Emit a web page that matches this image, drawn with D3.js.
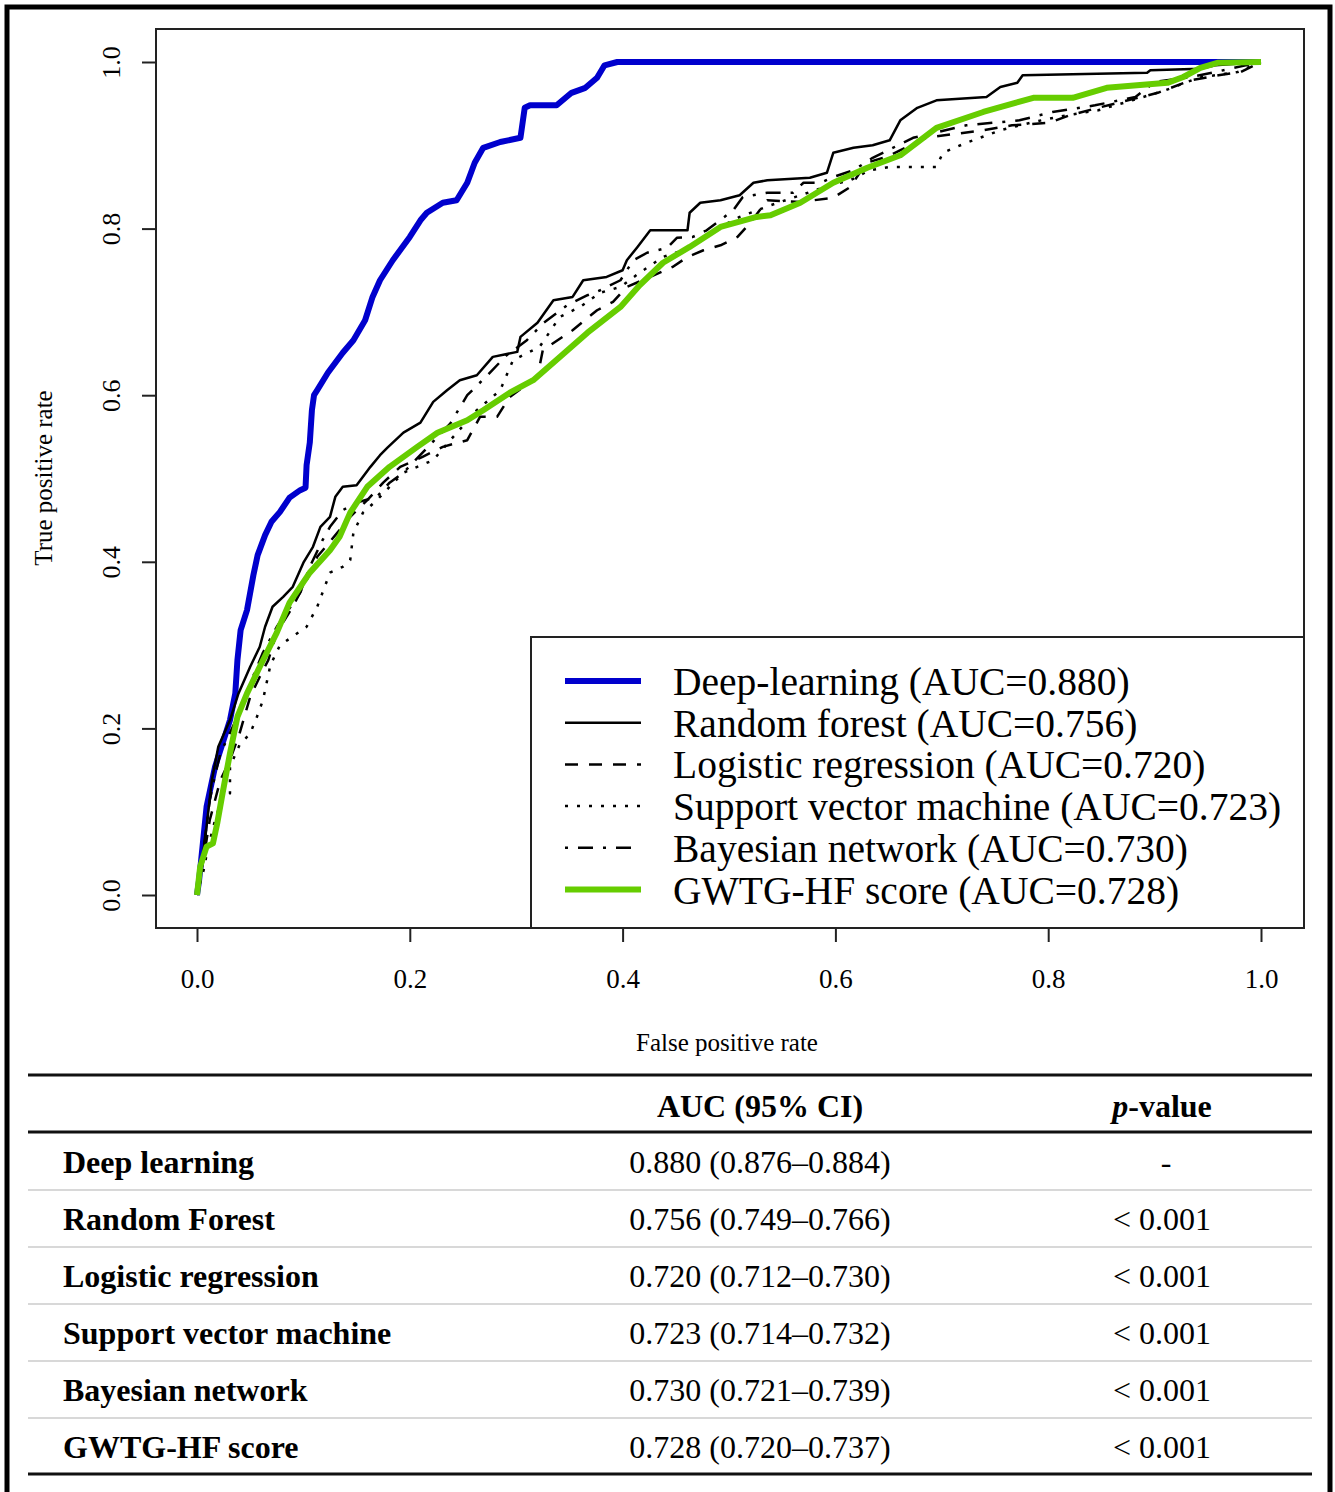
<!DOCTYPE html>
<meta charset="utf-8">
<style>
body { margin: 0; background: #fff; }
text { font-family: "Liberation Serif", "Times New Roman", serif; fill: #000; }
.axis path.domain { display: none; }
.axis line { stroke: #222; stroke-width: 2px; }
.roc { fill: none; stroke-linejoin: round; }
</style>
<svg width="1335" height="1492"></svg>
<script src="https://d3js.org/d3.v7.min.js"></script>
<script>

// ROC curves, [false positive rate, true positive rate]
var deepLearning = [[0,0],[0.002,0.018],[0.009,0.106],[0.017,0.154],[0.031,0.21],[0.036,0.242],[0.038,0.282],
  [0.041,0.318],[0.047,0.342],[0.053,0.384],[0.057,0.408],[0.064,0.432],[0.07,0.448],[0.078,0.46],[0.087,0.477],
  [0.097,0.486],[0.102,0.489],[0.103,0.516],[0.106,0.543],[0.108,0.582],[0.11,0.6],[0.113,0.606],[0.123,0.627],
  [0.137,0.651],[0.147,0.666],[0.158,0.69],[0.165,0.718],[0.172,0.738],[0.184,0.762],[0.2,0.79],[0.21,0.81],
  [0.216,0.819],[0.231,0.831],[0.244,0.834],[0.254,0.855],[0.261,0.879],[0.269,0.897],[0.285,0.904],[0.304,0.909],
  [0.308,0.945],[0.313,0.948],[0.338,0.948],[0.352,0.963],[0.365,0.969],[0.376,0.981],[0.383,0.996],[0.395,1],[1,1]];

var randomForest = [[0,0],[0.0075,0.066],[0.014,0.138],[0.02,0.178],[0.031,0.21],[0.039,0.242],[0.05,0.274],
  [0.059,0.298],[0.064,0.322],[0.071,0.346],[0.081,0.358],[0.09,0.37],[0.1,0.399],[0.109,0.418],[0.116,0.442],
  [0.125,0.454],[0.13,0.478],[0.137,0.49],[0.15,0.492],[0.163,0.514],[0.172,0.528],[0.179,0.537],[0.194,0.555],
  [0.21,0.567],[0.222,0.592],[0.235,0.606],[0.247,0.618],[0.263,0.624],[0.278,0.646],[0.301,0.652],[0.304,0.67],
  [0.32,0.687],[0.335,0.714],[0.353,0.718],[0.363,0.738],[0.385,0.742],[0.4,0.75],[0.404,0.762],[0.414,0.778],
  [0.426,0.798],[0.461,0.798],[0.463,0.819],[0.473,0.831],[0.492,0.834],[0.51,0.84],[0.523,0.855],[0.536,0.858],
  [0.576,0.861],[0.592,0.867],[0.598,0.891],[0.617,0.897],[0.635,0.9],[0.651,0.906],[0.661,0.93],[0.677,0.945],
  [0.695,0.954],[0.742,0.958],[0.755,0.97],[0.771,0.975],[0.776,0.984],[0.893,0.987],[0.896,0.99],[0.943,0.992],
  [0.957,0.996],[1,1]];

var logisticRegression = [[0,0],[0.006,0.042],[0.012,0.09],[0.022,0.138],[0.031,0.162],[0.04,0.194],[0.05,0.238],
  [0.059,0.262],[0.067,0.282],[0.075,0.315],[0.09,0.346],[0.103,0.378],[0.113,0.406],[0.132,0.435],[0.144,0.454],
  [0.16,0.474],[0.175,0.495],[0.191,0.514],[0.212,0.526],[0.231,0.538],[0.254,0.546],[0.266,0.574],[0.282,0.574],
  [0.294,0.598],[0.32,0.622],[0.325,0.654],[0.353,0.678],[0.376,0.702],[0.391,0.712],[0.404,0.73],[0.426,0.742],
  [0.447,0.754],[0.461,0.766],[0.476,0.774],[0.492,0.78],[0.508,0.79],[0.52,0.807],[0.536,0.834],[0.567,0.832],
  [0.598,0.837],[0.614,0.85],[0.629,0.879],[0.648,0.886],[0.685,0.909],[0.738,0.918],[0.766,0.924],[0.801,0.927],
  [0.82,0.936],[0.847,0.945],[0.903,0.963],[0.934,0.978],[0.96,0.984],[0.981,0.988],[1,1]];

var supportVector = [[0,0],[0.0075,0.036],[0.009,0.05],[0.017,0.09],[0.023,0.114],[0.031,0.122],[0.031,0.154],
  [0.04,0.18],[0.05,0.194],[0.057,0.216],[0.062,0.234],[0.069,0.276],[0.078,0.3],[0.085,0.306],[0.103,0.322],
  [0.113,0.346],[0.125,0.387],[0.137,0.394],[0.144,0.402],[0.147,0.435],[0.156,0.459],[0.169,0.474],[0.181,0.49],
  [0.194,0.507],[0.207,0.514],[0.222,0.522],[0.238,0.546],[0.263,0.582],[0.285,0.606],[0.297,0.642],[0.322,0.658],
  [0.341,0.694],[0.36,0.706],[0.379,0.723],[0.398,0.73],[0.416,0.747],[0.438,0.766],[0.457,0.774],[0.473,0.786],
  [0.492,0.802],[0.51,0.814],[0.539,0.828],[0.567,0.84],[0.595,0.852],[0.614,0.858],[0.632,0.87],[0.651,0.874],
  [0.695,0.874],[0.701,0.891],[0.723,0.903],[0.755,0.918],[0.786,0.928],[0.817,0.936],[0.847,0.942],[0.879,0.954],
  [0.91,0.966],[0.941,0.981],[0.978,0.988],[1,1]];

var bayesianNetwork = [[0,0],[0.006,0.054],[0.012,0.114],[0.017,0.144],[0.022,0.17],[0.038,0.214],[0.05,0.254],
  [0.062,0.291],[0.075,0.322],[0.097,0.363],[0.106,0.394],[0.118,0.426],[0.125,0.442],[0.137,0.462],[0.15,0.471],
  [0.169,0.478],[0.181,0.495],[0.194,0.507],[0.212,0.531],[0.238,0.566],[0.254,0.6],[0.273,0.624],[0.291,0.648],
  [0.31,0.666],[0.325,0.686],[0.348,0.708],[0.367,0.72],[0.379,0.726],[0.398,0.738],[0.41,0.762],[0.423,0.771],
  [0.442,0.777],[0.451,0.789],[0.466,0.79],[0.479,0.798],[0.504,0.822],[0.513,0.838],[0.536,0.843],[0.56,0.843],
  [0.57,0.855],[0.586,0.855],[0.598,0.862],[0.617,0.87],[0.635,0.885],[0.673,0.909],[0.723,0.924],[0.773,0.93],
  [0.804,0.94],[0.844,0.948],[0.882,0.958],[0.9,0.976],[0.934,0.982],[0.957,0.988],[1,1]];

var gwtgScore = [[0,0],[0.003,0.034],[0.009,0.058],[0.015,0.062],[0.019,0.086],[0.024,0.122],[0.031,0.17],
  [0.038,0.214],[0.047,0.242],[0.059,0.274],[0.075,0.315],[0.087,0.351],[0.106,0.387],[0.125,0.414],[0.134,0.43],
  [0.144,0.459],[0.16,0.49],[0.181,0.514],[0.207,0.538],[0.226,0.555],[0.254,0.57],[0.269,0.582],[0.294,0.603],
  [0.316,0.618],[0.341,0.646],[0.367,0.675],[0.398,0.706],[0.416,0.732],[0.438,0.759],[0.463,0.778],[0.492,0.802],
  [0.526,0.814],[0.539,0.816],[0.567,0.831],[0.598,0.855],[0.63,0.873],[0.661,0.888],[0.695,0.921],[0.739,0.94],
  [0.786,0.957],[0.823,0.957],[0.855,0.969],[0.912,0.975],[0.927,0.982],[0.943,0.993],[0.959,0.999],[1,1]];

var legendNames = ["Deep-learning", "Random forest", "Logistic regression",
                   "Support vector machine", "Bayesian network", "GWTG-HF score"];
var legendAUC = ["0.880", "0.756", "0.720", "0.723", "0.730", "0.728"];

var xTicks = [0, 0.2, 0.4, 0.6, 0.8, 1.0],
    yTicks = [0, 0.2, 0.4, 0.6, 0.8, 1.0];

// table under the plot
var tableModels = ["Deep learning", "Random Forest", "Logistic regression",
                   "Support vector machine", "Bayesian network", "GWTG-HF score"];
var tableAUC = ["0.880 (0.876\u20130.884)", "0.756 (0.749\u20130.766)", "0.720 (0.712\u20130.730)",
                "0.723 (0.714\u20130.732)", "0.730 (0.721\u20130.739)", "0.728 (0.720\u20130.737)"];
var tablePValue = ["-", "< 0.001", "< 0.001", "< 0.001", "< 0.001", "< 0.001"];

var series = [deepLearning, randomForest, logisticRegression, supportVector, bayesianNetwork, gwtgScore];
// line look for each series, same order as legendNames
var styles = [
  {color: "#0000CD", width: 6,   dash: null},
  {color: "#000",    width: 2.5, dash: null},
  {color: "#000",    width: 2.5, dash: "13,11"},
  {color: "#000",    width: 2.5, dash: "3,9"},
  {color: "#000",    width: 2.5, dash: "3,10,15,10"},
  {color: "#66CD00", width: 6,   dash: null}
];

var svg = d3.select("svg");

svg.append("rect").attr("width", 1335).attr("height", 1492).attr("fill", "#fff");

// outer frame (open at the bottom)
svg.append("path")
    .attr("d", "M7,1492V7H1330V1492")
    .attr("fill", "none")
    .attr("stroke", "#000")
    .attr("stroke-width", 5);

var box = {left: 156, top: 29, right: 1304, bottom: 928};

var x = d3.scaleLinear().domain([0, 1]).range([197, 1261]),
    y = d3.scaleLinear().domain([0, 1]).range([895, 62]);

// x axis
var xAxis = svg.append("g")
    .attr("class", "axis")
    .attr("transform", "translate(0," + box.bottom + ")")
    .call(d3.axisBottom(x).tickValues(xTicks).tickFormat(d3.format(".1f")).tickSize(14));
xAxis.selectAll("text")
    .attr("y", 60).attr("dy", null)
    .style("font-size", "27px");

// y axis, labels turned parallel to the axis like R does
var yAxis = svg.append("g")
    .attr("class", "axis")
    .attr("transform", "translate(" + box.left + ",0)")
    .call(d3.axisLeft(y).tickValues(yTicks).tickFormat(d3.format(".1f")).tickSize(14));
yAxis.selectAll("text")
    .attr("x", null).attr("dy", null)
    .attr("text-anchor", "middle")
    .attr("transform", "translate(-36,0) rotate(-90)")
    .style("font-size", "26px");

svg.append("text")
    .attr("x", 727).attr("y", 1051)
    .attr("text-anchor", "middle")
    .style("font-size", "25px")
    .text("False positive rate");

svg.append("text")
    .attr("transform", "translate(52,478) rotate(-90)")
    .attr("text-anchor", "middle")
    .style("font-size", "25px")
    .text("True positive rate");

// curves
var line = d3.line()
    .x(function(d) { return x(d[0]); })
    .y(function(d) { return y(d[1]); });

svg.selectAll(".roc")
    .data(series)
  .enter().append("path")
    .attr("class", "roc")
    .attr("d", line)
    .attr("stroke", function(d, i) { return styles[i].color; })
    .attr("stroke-width", function(d, i) { return styles[i].width; })
    .attr("stroke-dasharray", function(d, i) { return styles[i].dash; });

// plot box
svg.append("rect")
    .attr("x", box.left).attr("y", box.top)
    .attr("width", box.right - box.left).attr("height", box.bottom - box.top)
    .attr("fill", "none").attr("stroke", "#222").attr("stroke-width", 2);

// legend
var legend = svg.append("g");
legend.append("rect")
    .attr("x", 531).attr("y", 637)
    .attr("width", box.right - 531).attr("height", box.bottom - 637)
    .attr("fill", "#fff").attr("stroke", "#222").attr("stroke-width", 2);

var item = legend.selectAll(".item")
    .data(legendNames)
  .enter().append("g")
    .attr("class", "item")
    .attr("transform", function(d, i) { return "translate(0," + (681 + i * 41.7) + ")"; });

item.append("line")
    .attr("x1", 565).attr("x2", 641)
    .attr("stroke", function(d, i) { return styles[i].color; })
    .attr("stroke-width", function(d, i) { return styles[i].width; })
    .attr("stroke-dasharray", function(d, i) { return styles[i].dash; });

item.append("text")
    .attr("x", 673).attr("y", 14)
    .style("font-size", "39.5px")
    .text(function(d, i) { return d + " (AUC=" + legendAUC[i] + ")"; });

// table
var table = svg.append("g");
var rowY = d3.range(tableModels.length).map(function(i) { return 1162 + i * 57; });

table.selectAll(".rule")
    .data([1075, 1132, 1474])
  .enter().append("line")
    .attr("x1", 28).attr("x2", 1312)
    .attr("y1", function(d) { return d; }).attr("y2", function(d) { return d; })
    .attr("stroke", "#111").attr("stroke-width", 3);

table.selectAll(".sep")
    .data(rowY.slice(0, -1))
  .enter().append("line")
    .attr("x1", 28).attr("x2", 1312)
    .attr("y1", function(d) { return d + 28; }).attr("y2", function(d) { return d + 28; })
    .attr("stroke", "#d8d8d8").attr("stroke-width", 2);

table.append("text")
    .attr("x", 760).attr("y", 1117)
    .attr("text-anchor", "middle")
    .style("font-size", "32px").style("font-weight", "bold")
    .text("AUC (95% CI)");

var pHead = table.append("text")
    .attr("x", 1162).attr("y", 1117)
    .attr("text-anchor", "middle")
    .style("font-size", "32px").style("font-weight", "bold");
pHead.append("tspan").style("font-style", "italic").text("p");
pHead.append("tspan").text("-value");

table.selectAll(".model")
    .data(tableModels)
  .enter().append("text")
    .attr("x", 63).attr("y", function(d, i) { return rowY[i] + 11; })
    .style("font-size", "32px").style("font-weight", "bold")
    .text(function(d) { return d; });

table.selectAll(".auc")
    .data(tableAUC)
  .enter().append("text")
    .attr("x", 760).attr("y", function(d, i) { return rowY[i] + 11; })
    .attr("text-anchor", "middle")
    .style("font-size", "32px")
    .text(function(d) { return d; });

table.selectAll(".pval")
    .data(tablePValue)
  .enter().append("text")
    .attr("x", function(d) { return d === "-" ? 1166 : 1162; })
    .attr("y", function(d, i) { return rowY[i] + 11; })
    .attr("text-anchor", "middle")
    .style("font-size", "32px")
    .text(function(d) { return d; });

</script>
